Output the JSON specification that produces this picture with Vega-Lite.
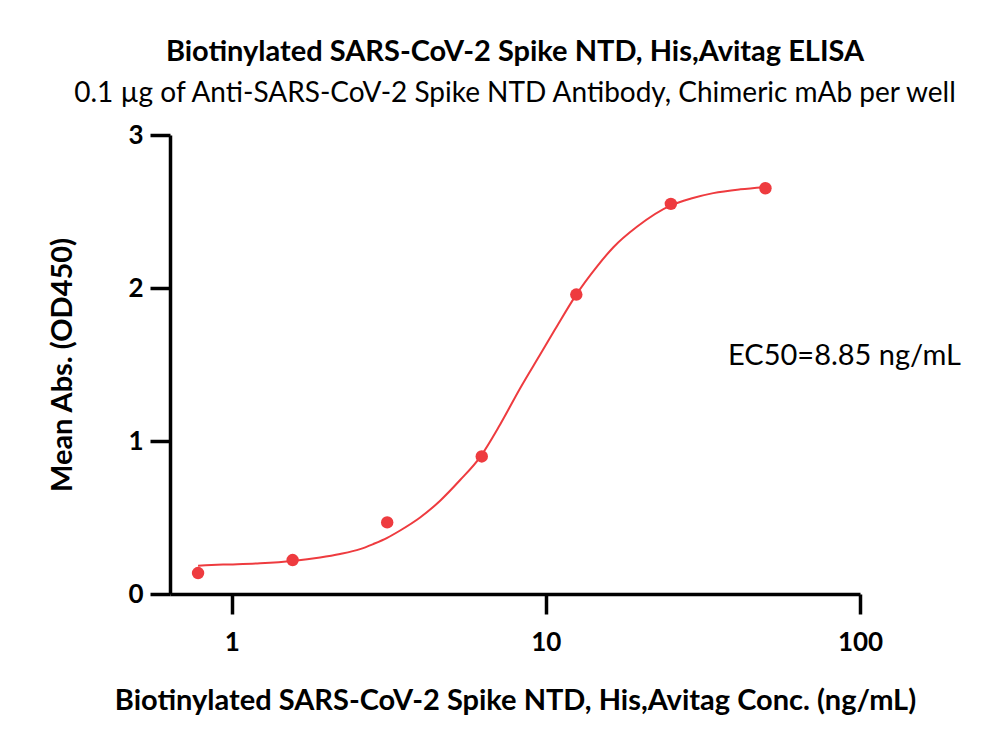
{
  "$schema": "https://vega.github.io/schema/vega-lite/v6.json",
  "autosize": "none",
  "width": 690,
  "height": 459,
  "padding": {"left": 170, "top": 135, "right": 140, "bottom": 158},
  "background": "white",
  "title": {
    "text": "Biotinylated SARS-CoV-2 Spike NTD, His,Avitag ELISA",
    "subtitle": "0.1 µg of Anti-SARS-CoV-2 Spike NTD Antibody, Chimeric mAb per well",
    "anchor": "middle",
    "font": "Lato",
    "fontSize": 29,
    "fontWeight": "bold",
    "color": "black",
    "subtitleFont": "Lato",
    "subtitleFontSize": 28,
    "subtitleFontWeight": "normal",
    "subtitleColor": "black",
    "subtitlePadding": 13,
    "offset": 14
  },
  "datasets": {
    "curve": [
      {"conc": 0.78125, "od": 0.185},
      {"conc": 0.938, "od": 0.192},
      {"conc": 1.231, "od": 0.201},
      {"conc": 1.5625, "od": 0.216},
      {"conc": 1.911, "od": 0.238},
      {"conc": 2.213, "od": 0.261},
      {"conc": 2.562, "od": 0.293},
      {"conc": 2.818, "od": 0.326},
      {"conc": 3.125, "od": 0.367},
      {"conc": 3.436, "od": 0.415},
      {"conc": 3.978, "od": 0.50},
      {"conc": 4.607, "od": 0.61},
      {"conc": 5.334, "od": 0.745},
      {"conc": 6.176, "od": 0.895},
      {"conc": 7.152, "od": 1.108},
      {"conc": 8.283, "od": 1.345},
      {"conc": 9.59, "od": 1.565},
      {"conc": 10.70, "od": 1.73},
      {"conc": 12.5, "od": 1.957},
      {"conc": 14.54, "od": 2.14},
      {"conc": 16.38, "od": 2.265},
      {"conc": 19.49, "od": 2.40},
      {"conc": 25, "od": 2.54},
      {"conc": 29, "od": 2.585},
      {"conc": 34.11, "od": 2.62},
      {"conc": 41.6, "od": 2.645},
      {"conc": 50, "od": 2.66}
    ],
    "points": [
      {"conc": 0.78125, "od": 0.137},
      {"conc": 1.5625, "od": 0.222},
      {"conc": 3.125, "od": 0.468},
      {"conc": 6.25, "od": 0.899},
      {"conc": 12.5, "od": 1.957},
      {"conc": 25, "od": 2.55},
      {"conc": 50, "od": 2.652}
    ],
    "label": [
      {"conc": 38, "od": 1.556, "text": "EC50=8.85 ng/mL"}
    ]
  },
  "encoding": {
    "x": {
      "field": "conc",
      "type": "quantitative",
      "scale": {"type": "log", "domain": [0.636, 100], "nice": false},
      "axis": {
        "title": "Biotinylated SARS-CoV-2 Spike NTD, His,Avitag Conc. (ng/mL)",
        "values": [1, 10, 100],
        "format": "d",
        "labelPadding": 15,
        "titlePadding": 31
      }
    },
    "y": {
      "field": "od",
      "type": "quantitative",
      "scale": {"domain": [0, 3], "nice": false},
      "axis": {
        "title": "Mean Abs. (OD450)",
        "values": [0, 1, 2, 3],
        "labelPadding": 7,
        "titlePadding": 50
      }
    }
  },
  "layer": [
    {
      "data": {"name": "curve"},
      "mark": {"type": "line", "color": "#EE3B3F", "strokeWidth": 2, "interpolate": "monotone"}
    },
    {
      "data": {"name": "points"},
      "mark": {"type": "circle", "color": "#EE3B3F", "size": 155, "opacity": 1}
    },
    {
      "data": {"name": "label"},
      "mark": {"type": "text", "align": "left", "baseline": "middle", "font": "Lato", "fontSize": 29, "color": "black"},
      "encoding": {"text": {"field": "text"}}
    }
  ],
  "config": {
    "view": {"stroke": null},
    "axis": {
      "grid": false,
      "domainColor": "black",
      "domainWidth": 3.5,
      "tickColor": "black",
      "tickWidth": 3.5,
      "tickSize": 20,
      "labelFont": "Lato",
      "labelFontSize": 26,
      "labelFontWeight": "bold",
      "labelColor": "black",
      "labelFlush": false,
      "labelOverlap": false,
      "titleFont": "Lato",
      "titleFontSize": 29,
      "titleFontWeight": "bold",
      "titleColor": "black"
    }
  }
}
